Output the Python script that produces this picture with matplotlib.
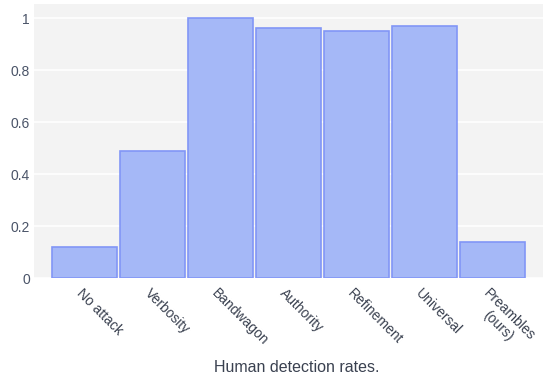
import numpy as np
import matplotlib.pyplot as plt

# detection rate per attack
attacks = ['No attack', 'Verbosity', 'Bandwagon', 'Authority', 'Refinement', 'Universal', 'Preambles\n(ours)']
rates = [0.12, 0.49, 1.0, 0.96, 0.95, 0.97, 0.14]
y_ticks = [0, 0.2, 0.4, 0.6, 0.8, 1]
y_tick_labels = ['0', '0.2', '0.4', '0.6', '0.8', '1']

plt.rcParams['font.family'] = ['Liberation Sans', 'DejaVu Sans']

fig = plt.figure(figsize=(5.43, 3.77), dpi=100)
ax = fig.add_axes([34 / 543, 1 - 278 / 377, 509 / 543, 274 / 377])
ax.set_facecolor('#f3f3f3')

x = np.arange(len(attacks))
ax.bar(x, rates, width=0.96, color='#a5b8f7', edgecolor='#8296f6', linewidth=1.2, zorder=2)

ax.set_xlim(-0.75, 6.75)
ax.set_ylim(0, 1.054)
ax.set_yticks(y_ticks)
ax.set_yticklabels(y_tick_labels)
ax.grid(axis='y', color='white', linewidth=1.2, zorder=0)
ax.set_axisbelow(True)

for s in ax.spines.values():
    s.set_visible(False)

ax.tick_params(axis='y', length=0, pad=3, labelsize=10, labelcolor='#4a5468')
ax.tick_params(axis='x', length=0)
ax.set_xticks(x)
ax.set_xticklabels([])

for i, lab in enumerate(attacks):
    ax.annotate(lab, xy=(i, 0), xycoords=('data', 'axes fraction'),
                xytext=(-1, -6), textcoords='offset points',
                rotation=-45, rotation_mode='anchor', ha='left', va='top',
                multialignment='center', fontsize=10, color='#3a4150')

fig.text(297 / 543, 1 - 367 / 377, 'Human detection rates.', ha='center', va='center',
         fontsize=11.5, color='#3a4150')

fig.savefig('out.png', dpi=100)
